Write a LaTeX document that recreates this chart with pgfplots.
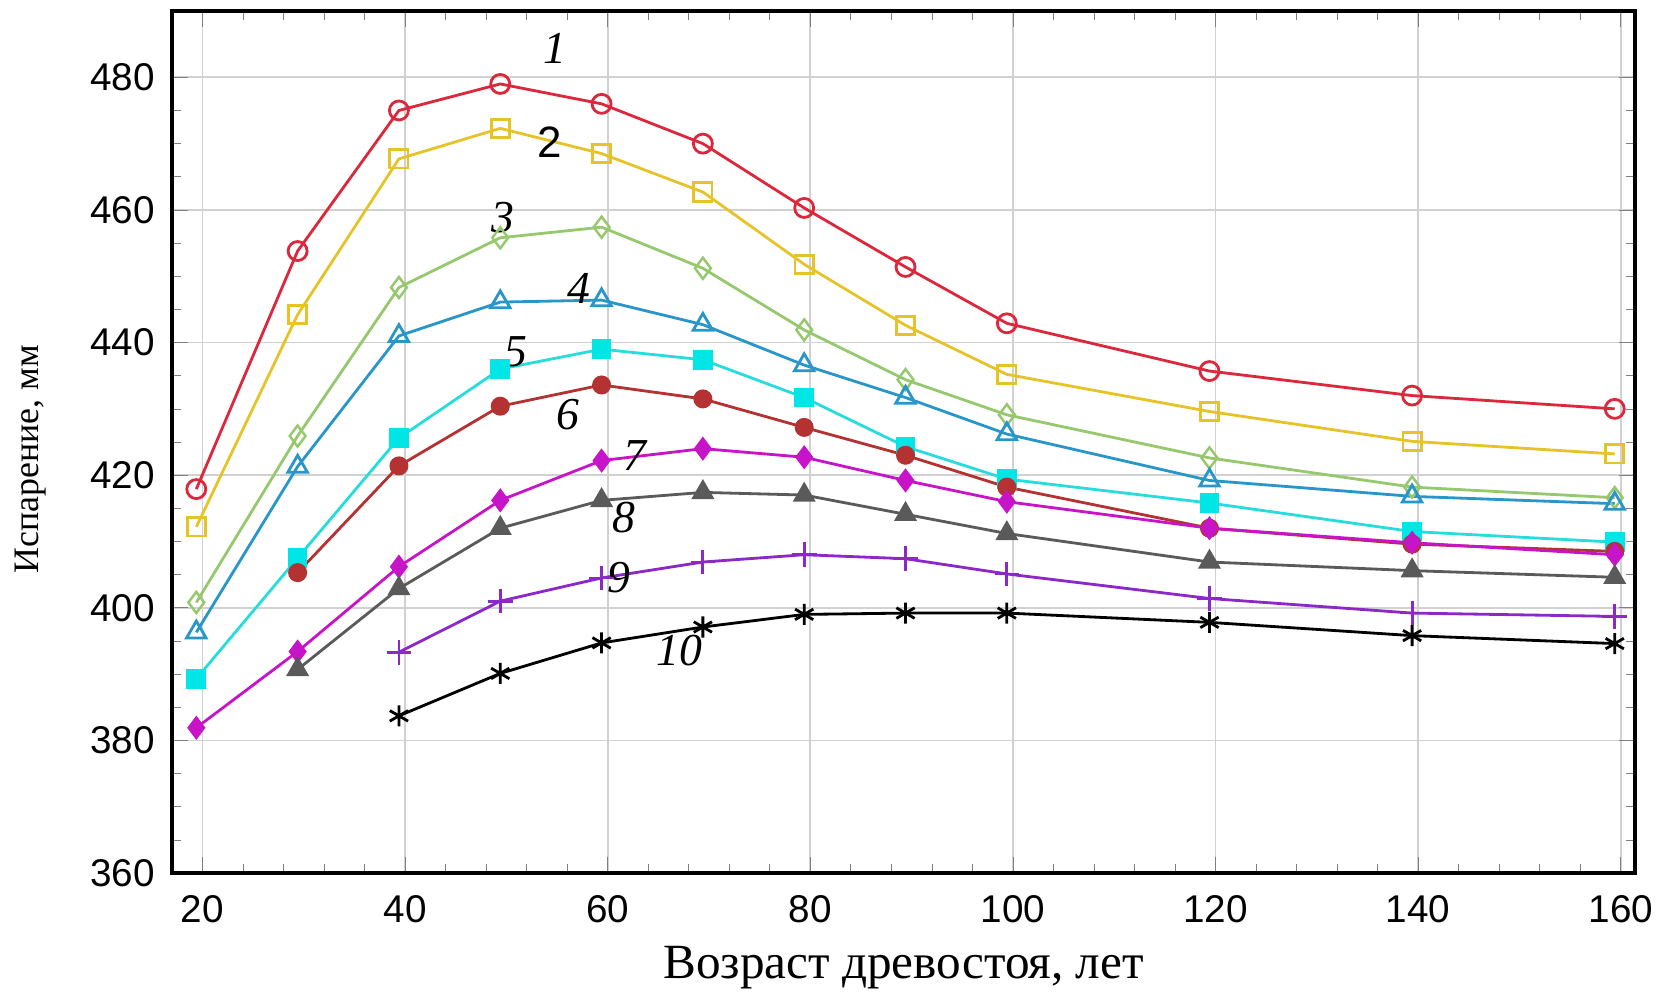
\documentclass[border=0pt]{standalone}
\usepackage{pgfplots}
\pgfplotsset{compat=1.18}
\usepackage{fontspec}
\setmainfont{Liberation Serif}
\newfontfamily\arial{Liberation Sans}
\definecolor{c1}{RGB}{220,40,60}
\definecolor{c2}{RGB}{230,195,40}
\definecolor{c3}{RGB}{150,200,110}
\definecolor{c4}{RGB}{40,150,200}
\definecolor{c5}{RGB}{40,220,220}
\definecolor{c5f}{RGB}{0,230,230}
\definecolor{c6}{RGB}{180,50,50}
\definecolor{c7}{RGB}{200,20,200}
\definecolor{c8}{RGB}{90,90,90}
\definecolor{c9}{RGB}{140,40,200}
\begin{document}
\begin{tikzpicture}
\begin{axis}[
  scale only axis,
  width=146.3mm, height=86.2mm,
  xmin=17, xmax=161.4, ymin=360, ymax=490,
  xtick={20,40,...,160}, ytick={360,380,...,480},
  minor x tick num=4, minor y tick num=3,
  tick align=inside,
  major tick length=1.6mm, minor tick length=0.9mm,
  grid=major,
  major grid style={draw=black!18, line width=0.5pt},
  axis line style={line width=1pt},
  /pgf/number format/assume math mode=true,
  ticklabel style={font=\arial\fontsize{11}{13}\selectfont},
  xticklabel style={yshift=-1mm},
  yticklabel style={xshift=-0.5mm},
  xlabel={Возраст древостоя, лет},
  ylabel={Испарение, мм},
  xlabel style={at={(axis description cs:0.5,-0.110)}, anchor=center, inner sep=0pt, font=\fontsize{14}{16}\selectfont},
  ylabel style={at={(axis description cs:-0.097,0.48)}, anchor=center, inner sep=0pt, font=\fontsize{10.2}{12}\selectfont},
  every axis plot/.append style={line width=0.8pt},
  clip=false,
]
% 1
\addplot[c1, mark=o, mark size=2.7pt, mark options={line width=0.8pt}] coordinates {
(19.4,417.9)(29.4,453.8)(39.4,475)(49.4,479)(59.4,476)(69.4,470)(79.4,460.3)(89.4,451.4)(99.4,442.9)(119.4,435.7)(139.4,432)(159.4,430)};
% 2
\addplot[c2, mark=square, mark size=2.6pt, mark options={line width=0.8pt}] coordinates {
(19.4,412.2)(29.4,444.2)(39.4,467.7)(49.4,472.3)(59.4,468.5)(69.4,462.7)(79.4,451.8)(89.4,442.6)(99.4,435.2)(119.4,429.6)(139.4,425.1)(159.4,423.2)};
% 3
\addplot[c3, mark=diamond, mark size=3pt, mark options={line width=0.7pt}] coordinates {
(19.4,400.8)(29.4,425.9)(39.4,448.3)(49.4,455.8)(59.4,457.4)(69.4,451.2)(79.4,441.9)(89.4,434.4)(99.4,429.1)(119.4,422.6)(139.4,418.2)(159.4,416.6)};
% 4
\addplot[c4, mark=triangle, mark size=3.2pt, mark options={line width=0.8pt}] coordinates {
(19.4,396.3)(29.4,421.3)(39.4,441)(49.4,446.1)(59.4,446.4)(69.4,442.7)(79.4,436.6)(89.4,431.7)(99.4,426.2)(119.4,419.2)(139.4,416.8)(159.4,415.7)};
% 5
\addplot[c5, mark=square*, mark size=2.4pt, mark options={fill=c5f, draw=c5f}] coordinates {
(19.4,389.3)(29.4,407.5)(39.4,425.6)(49.4,436)(59.4,439)(69.4,437.4)(79.4,431.7)(89.4,424.3)(99.4,419.4)(119.4,415.8)(139.4,411.5)(159.4,409.9)};
% 6
\addplot[c6, mark=*, mark size=2.3pt] coordinates {
(29.4,405.3)(39.4,421.4)(49.4,430.4)(59.4,433.6)(69.4,431.5)(79.4,427.2)(89.4,423)(99.4,418.2)(119.4,412)(139.4,409.6)(159.4,408.5)};
% 7
\addplot[c7, mark=diamond*, mark size=2.8pt] coordinates {
(19.4,381.9)(29.4,393.4)(39.4,406.2)(49.4,416.2)(59.4,422.2)(69.4,424)(79.4,422.7)(89.4,419.2)(99.4,416)(119.4,412)(139.4,409.8)(159.4,408)};
% 8
\addplot[c8, mark=triangle*, mark size=3pt] coordinates {
(29.4,390.7)(39.4,402.9)(49.4,412)(59.4,416.2)(69.4,417.4)(79.4,417)(89.4,414.1)(99.4,411.2)(119.4,406.9)(139.4,405.6)(159.4,404.6)};
% 9
\addplot[c9, mark=+, mark size=3.5pt, mark options={line width=0.8pt}] coordinates {
(39.4,393.3)(49.4,401)(59.4,404.5)(69.4,406.9)(79.4,408)(89.4,407.4)(99.4,405.1)(119.4,401.4)(139.4,399.2)(159.4,398.7)};
% 10
\addplot[black, mark=asterisk, mark size=3pt, mark options={line width=0.8pt}] coordinates {
(39.4,383.7)(49.4,390.1)(59.4,394.7)(69.4,397.1)(79.4,399)(89.4,399.2)(99.4,399.2)(119.4,397.8)(139.4,395.8)(159.4,394.6)};
\begin{scope}[every node/.style={font=\fontsize{13}{15}\selectfont\itshape}]
\node at (axis cs:54.8,484.3) {1};
\node[font=\arial\fontsize{12.5}{15}\selectfont] at (axis cs:54.3,470.2) {2};
\node at (axis cs:49.7,458.9) {3};
\node at (axis cs:57.2,448.2) {4};
\node at (axis cs:50.9,438.6) {5};
\node at (axis cs:56.1,429.1) {6};
\node at (axis cs:62.7,423) {7};
\node at (axis cs:61.6,413.6) {8};
\node at (axis cs:61.1,404.6) {9};
\node at (axis cs:67.1,393.6) {10};
\end{scope}
\end{axis}
\path[use as bounding box] (current axis.south west) ++(-17.2mm,-11.9mm) rectangle ++(166.5mm,99.2mm);
\end{tikzpicture}
\end{document}
